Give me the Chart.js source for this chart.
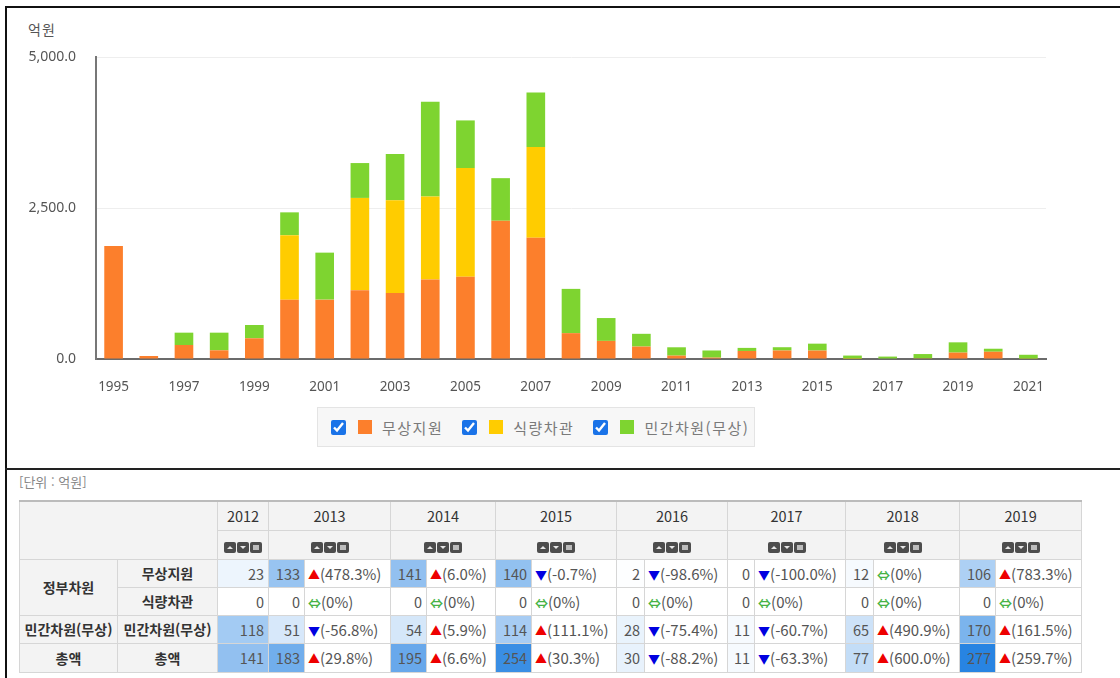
<!DOCTYPE html>
<html lang="ko">
<head>
<meta charset="utf-8">
<title>대북지원 현황</title>
<script src="https://cdn.jsdelivr.net/npm/chart.js@4"></script>
<style>
  html, body { margin: 0; padding: 0; background: #fff; }
  body { width: 1120px; height: 678px; position: relative; overflow: hidden;
         font-family: "Noto Sans CJK KR", "Noto Sans", sans-serif; }
  .frame { position: absolute; left: 5px; top: 6px; width: 1200px; height: 700px;
           border-top: 2px solid #111; border-left: 2px solid #111; }
  .sep { position: absolute; left: 5px; top: 468px; width: 1200px; height: 0;
         border-top: 2px solid #222; }
  #chartWrap { position: absolute; left: 0; top: 0; width: 1120px; height: 400px; }
  .unit { position: absolute; left: 28px; top: 19px; font-size: 14px; color: #555; letter-spacing: 1px; }
  .legend { position: absolute; left: 317px; top: 407px; width: 438px; height: 40px; box-sizing: border-box;
            background: #f7f7f7; border: 1px solid #e4e4e4; display: flex; align-items: center; padding-left: 13px;
            white-space: nowrap; overflow: hidden; }
  .legend label { display: flex; align-items: center; flex-shrink: 0; margin-right: 19px; font-size: 15px;
                  color: #7a7a7a; letter-spacing: 1.5px; white-space: nowrap; }
  .legend input { margin: 0 12px 0 0; width: 15px; height: 15px; accent-color: #1a73e8; flex-shrink: 0; }
  .legend .sw { display: inline-block; width: 14px; height: 14px; margin-right: 10px; flex-shrink: 0; }
  .tunit { position: absolute; left: 19px; top: 472px; font-size: 13px; color: #888; }
  table { position: absolute; left: 19px; top: 500px; width: 1062px; table-layout: fixed;
          border-collapse: collapse; font-size: 14px; color: #555; border-top: 2px solid #bbb; }
  td, th { border: 1px solid #d6d6d6; padding: 0; white-space: nowrap; overflow: hidden; }
  th { background: #f3f3f3; color: #333; font-weight: 700; }
  thead th { font-weight: 400; color: #333; font-size: 14.5px; }
  td.v { text-align: right; padding-right: 4px; font-size: 14.5px; }
  td.c { text-align: left; padding-left: 3px; background: #fff; font-size: 15px; }
  .up { color: #e00; font-size: 12px; } .dn { color: #0000e0; font-size: 12px; }
  .eq { color: #46b346; font-size: 13px; font-weight: 700; }
  .ico { display: inline-block; width: 12px; height: 11px; background: #4d4d4d; border-radius: 2px;
         margin: 0 0.5px; position: relative; vertical-align: middle; }
  .ico.u::after { content: ''; position: absolute; left: 3px; top: 4px; border-left: 3px solid transparent;
                  border-right: 3px solid transparent; border-bottom: 3px solid #e8e8e8; }
  .ico.d::after { content: ''; position: absolute; left: 3px; top: 4px; border-left: 3px solid transparent;
                  border-right: 3px solid transparent; border-top: 3px solid #e8e8e8; }
  .ico.l::after { content: ''; position: absolute; left: 3px; top: 3px; width: 6px; height: 5px; background: #bdbdbd; }
</style>
</head>
<body>
<div class="frame"></div>
<div class="sep"></div>
<div class="unit">억원</div>
<div id="chartWrap"><canvas id="aidChart" width="1120" height="400"></canvas></div>
<div class="legend" id="legend"></div>
<div class="tunit">[단위 : 억원]</div>
<table id="aidTable"></table>

<script>
// chart data (억원)
const years = ['1995','1996','1997','1998','1999','2000','2001','2002','2003','2004','2005','2006','2007','2008',
               '2009','2010','2011','2012','2013','2014','2015','2016','2017','2018','2019','2020','2021'];
const grantAid = [1870, 50, 232, 144, 343, 983, 983, 1139, 1094, 1317, 1361, 2289, 2006, 428,
                  300, 206, 56, 23, 133, 141, 140, 2, 0, 12, 106, 120, 5];
const foodLoan = [0, 0, 0, 0, 0, 1067, 0, 1528, 1534, 1372, 1800, 0, 1505, 0,
                  0, 0, 0, 0, 0, 0, 0, 0, 0, 0, 0, 0, 0];
const privateAid = [0, 0, 204, 292, 220, 378, 778, 577, 766, 1572, 789, 705, 900, 733,
                    378, 211, 138, 118, 51, 54, 114, 55, 40, 70, 170, 50, 65];
const seriesNames = ['무상지원', '식량차관', '민간차원(무상)'];
const seriesColors = ['#fc7f2c', '#ffcc00', '#7ed430'];

// table data
const tableYears = ['2012','2013','2014','2015','2016','2017','2018','2019'];
const rowGrant = [23, 133, 141, 140, 2, 0, 12, 106];
const rowFood = [0, 0, 0, 0, 0, 0, 0, 0];
const rowPrivate = [118, 51, 54, 114, 28, 11, 65, 170];
const rowTotal = [141, 183, 195, 254, 30, 11, 77, 277];
const chgGrant = [478.3, 6.0, -0.7, -98.6, -100.0, 0, 783.3];
const chgFood = [0, 0, 0, 0, 0, 0, 0];
const chgPrivate = [-56.8, 5.9, 111.1, -75.4, -60.7, 490.9, 161.5];
const chgTotal = [29.8, 6.6, 30.3, -88.2, -63.3, 600.0, 259.7];

Chart.defaults.font.family = '"Noto Sans", sans-serif';

const ctx = document.getElementById('aidChart').getContext('2d');
new Chart(ctx, {
    type: 'bar',
    data: {
        labels: years,
        datasets: [grantAid, foodLoan, privateAid].map((d, i) => ({
            label: seriesNames[i],
            data: d,
            backgroundColor: seriesColors[i],
            borderWidth: 0,
            barPercentage: 0.53,
            categoryPercentage: 1
        }))
    },
    options: {
        responsive: false,
        devicePixelRatio: 1,
        animation: false,
        layout: { padding: { left: 0, right: 74, top: 57, bottom: 0 } },
        plugins: { legend: { display: false }, tooltip: { enabled: false } },
        scales: {
            x: {
                stacked: true,
                grid: { display: false, drawTicks: false },
                border: { color: '#6b6b6b', width: 2 },
                ticks: {
                    autoSkip: false, maxRotation: 0, padding: 20, color: '#555',
                    font: { size: 13.5 },
                    callback: (v, i) => (i % 2 === 0 ? years[i] : '')
                },
                afterFit: (s) => { s.height = 41; }
            },
            y: {
                stacked: true,
                min: 0, max: 5000,
                grid: { color: '#eeeeee', drawTicks: false },
                border: { color: '#777', width: 2 },
                ticks: {
                    stepSize: 2500, padding: 20, color: '#555',
                    font: { size: 14 },
                    callback: (v) => v.toLocaleString('en-US', { minimumFractionDigits: 1, maximumFractionDigits: 1 })
                },
                afterFit: (s) => { s.width = 96; }
            }
        }
    }
});

// legend
const legend = document.getElementById('legend');
seriesNames.forEach((name, i) => {
    const lab = document.createElement('label');
    lab.innerHTML = '<input type="checkbox" checked><span class="sw" style="background:' + seriesColors[i] + '"></span>' + name;
    legend.appendChild(lab);
});

// table
const colWidths = [98, 100, 51, 36, 86, 36, 69, 36, 85, 28, 83, 27, 91, 28, 86, 36, 86];
const maxVal = Math.max(...rowTotal);
function heat(v) {
    const t = v / maxVal;
    const r = Math.round(255 + (40 - 255) * t), g = Math.round(255 + (132 - 255) * t), b = Math.round(255 + (226 - 255) * t);
    return 'rgb(' + r + ',' + g + ',' + b + ')';
}
function chg(p) {
    if (p === 0) return '<span class="eq">⇔</span>(0%)';
    const cls = p > 0 ? 'up' : 'dn', sym = p > 0 ? '▲' : '▼';
    return '<span class="' + cls + '">' + sym + '</span>(' + p.toFixed(1) + '%)';
}
const icons = '<span class="ico u"></span><span class="ico d"></span><span class="ico l"></span>';
let html = '<colgroup>' + colWidths.map(w => '<col style="width:' + w + 'px">').join('') + '</colgroup>';
html += '<thead><tr style="height:29px"><th colspan="2" rowspan="2"></th>' +
    tableYears.map((y, i) => '<th colspan="' + (i === 0 ? 1 : 2) + '">' + y + '</th>').join('') + '</tr>';
html += '<tr style="height:29px">' + tableYears.map((y, i) => '<th colspan="' + (i === 0 ? 1 : 2) + '">' + icons + '</th>').join('') + '</tr></thead>';
const rows = [
    { h1: '정부차원', span: 2, h2: '무상지원', vals: rowGrant, chg: chgGrant, hgt: 28 },
    { h1: null, h2: '식량차관', vals: rowFood, chg: chgFood, hgt: 28 },
    { h1: '민간차원(무상)', span: 1, h2: '민간차원(무상)', vals: rowPrivate, chg: chgPrivate, hgt: 28 },
    { h1: '총액', span: 1, h2: '총액', vals: rowTotal, chg: chgTotal, hgt: 29 }
];
html += '<tbody>';
rows.forEach(r => {
    html += '<tr style="height:' + r.hgt + 'px">';
    if (r.h1) html += '<th rowspan="' + r.span + '">' + r.h1 + '</th>';
    html += '<th>' + r.h2 + '</th>';
    r.vals.forEach((v, i) => {
        html += '<td class="v" style="background:' + heat(v) + '">' + v + '</td>';
        if (i > 0) html += '<td class="c">' + chg(r.chg[i - 1]) + '</td>';
    });
    html += '</tr>';
});
html += '</tbody>';
document.getElementById('aidTable').innerHTML = html;
</script>
</body>
</html>
